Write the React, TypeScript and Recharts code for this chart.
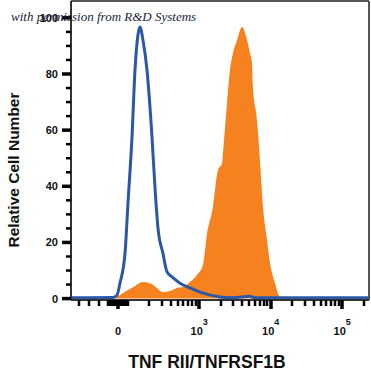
import { ComposedChart, Area, Line, XAxis, YAxis, ReferenceLine } from 'recharts';

// x positions are logicle display units (3 = 10^3, 4 = 10^4 ...), y = % of max
const isotypePos = [1.207, 1.794, 1.85, 1.892, 1.962, 2.004, 2.06, 2.102, 2.144, 2.172, 2.214, 2.27, 2.34, 2.382, 2.424, 2.494, 2.55, 2.62, 2.732, 2.871, 3.011, 3.291, 3.473, 3.71, 3.76, 3.85, 5.375];
const isotypeCounts = [0.3, 0.4, 1.2, 5.5, 16, 34, 57.5, 81.4, 94, 96.7, 92, 81.4, 57.5, 39.4, 25, 16, 9.5, 7.7, 5.5, 3.8, 2.3, 0.6, 0.3, 0.8, 0.4, 0.3, 0.3];

const samplePos = [1.207, 1.794, 1.934, 2.074, 2.214, 2.312, 2.41, 2.494, 2.592, 2.69, 2.774, 2.871, 2.969, 3.053, 3.109, 3.193, 3.263, 3.319, 3.333, 3.389, 3.431, 3.473, 3.529, 3.571, 3.599, 3.669, 3.71, 3.738, 3.752, 3.808, 3.85, 3.892, 3.948, 3.99, 4.06, 4.13, 4.228, 5.375];
const sampleCounts = [0, 0, 2, 4, 5.9, 5.5, 3.8, 2.3, 2.7, 3.8, 4.1, 5.9, 8.4, 12, 23, 32.6, 45.8, 48, 52, 69.6, 81.4, 87.5, 92, 95.6, 96.7, 92, 87.5, 84, 75, 63.6, 49, 32.6, 21, 12.7, 5.5, 0.6, 0, 0];

const yTicks = [0, 5, 10, 15, 20, 25, 30, 35, 40, 45, 50, 55, 60, 65, 70, 75, 80, 85, 90, 95, 100];
const yMajor = [0, 20, 40, 60, 80, 100];

const xTickValues = [
  -400, -300, -200, -100, -90, -80, -70, -60, -50, -40, -30, -20, -10, 0,
  10, 20, 30, 40, 50, 60, 70, 80, 90,
  100, 200, 300, 400, 500, 600, 700, 800, 900,
  1000, 2000, 3000, 4000, 5000, 6000, 7000, 8000, 9000,
  10000, 20000, 30000, 40000, 50000, 60000, 70000, 80000, 90000,
  100000, 200000,
];
const xMajorValues = [0, 1000, 10000, 100000];
const xLabelBase = ['0', '10', '10', '10'];
const xLabelExp = ['', '3', '4', '5'];

// linear near zero, log above 100
const toDisplay = (v: number) => (v >= 100 ? Math.log10(v) : 1.864 + v * 0.00136);

const isotypeData = isotypePos.map((u, i) => ({ u, count: isotypeCounts[i] }));
const sampleData = samplePos.map((u, i) => ({ u, count: sampleCounts[i] }));
const xTicks = xTickValues.map(toDisplay);
const xMajor = xMajorValues.map(toDisplay);

const FONT = 'Liberation Sans, Arial, sans-serif';

function YTick({ x, y, payload }: any) {
  const major = yMajor.includes(payload.value);
  return (
    <g>
      <line x1={x - (major ? 9 : 5)} x2={x} y1={y} y2={y} stroke="#000" strokeWidth={major ? 3.5 : 2.5} />
      {major && (
        <text x={x - 13} y={y + 4} textAnchor="end" fontFamily={FONT} fontWeight="bold" fontSize={11} fill="#111">
          {payload.value}
        </text>
      )}
    </g>
  );
}

function XTick({ x, y, payload }: any) {
  const idx = xMajor.findIndex((m) => Math.abs(m - payload.value) < 1e-6);
  const major = idx >= 0;
  const cx = Math.round(x);
  return (
    <g>
      <line x1={cx} x2={cx} y1={y} y2={y + (major ? 9 : 6)} stroke="#000" strokeWidth={major ? 3.5 : 2.5} />
      {major && (
        <text x={x} y={y + 35} textAnchor="middle" fontFamily={FONT} fontWeight="bold" fontSize={11} fill="#111">
          <tspan>{xLabelBase[idx]}</tspan>
          {xLabelExp[idx] && (
            <tspan dy={-10} fontSize={9}>
              {xLabelExp[idx]}
            </tspan>
          )}
        </text>
      )}
    </g>
  );
}

export default function App() {
  return (
    <div style={{ position: 'absolute', left: 0, top: 0, width: 371, height: 372, background: '#fff' }}>
      <ComposedChart width={371} height={372} margin={{ top: 1, right: 2, bottom: 0, left: 0 }}>
        <XAxis
          type="number"
          dataKey="u"
          domain={[1.207, 5.375]}
          allowDataOverflow
          ticks={xTicks}
          interval={0}
          height={72}
          tickSize={0}
          tickMargin={0}
          tickLine={false}
          tick={<XTick />}
          axisLine={{ stroke: '#333', strokeWidth: 2 }}
        />
        <YAxis
          type="number"
          domain={[-0.5, 106]}
          allowDataOverflow
          ticks={yTicks}
          interval={0}
          width={71}
          tickSize={0}
          tickMargin={0}
          tickLine={false}
          tick={<YTick />}
          axisLine={{ stroke: '#333', strokeWidth: 2 }}
        />
        <ReferenceLine y={106} stroke="#555" strokeWidth={2} />
        <ReferenceLine x={5.375} stroke="#555" strokeWidth={2} />
        <Area
          data={sampleData}
          dataKey="count"
          type="monotone"
          fill="#f5821f"
          fillOpacity={1}
          stroke="none"
          isAnimationActive={false}
        />
        <Line
          data={isotypeData}
          dataKey="count"
          type="monotone"
          stroke="#2a58a6"
          strokeWidth={3}
          dot={false}
          isAnimationActive={false}
        />
      </ComposedChart>
      <svg width={371} height={372} style={{ position: 'absolute', left: 0, top: 0, pointerEvents: 'none' }}>
        <text x={11} y={21} fontFamily="Liberation Serif, serif" fontStyle="italic" fontSize={13} fill="#1a1d40">
          with permission from R&amp;D Systems
        </text>
        <text transform="translate(19,170) rotate(-90)" textAnchor="middle" fontFamily={FONT} fontWeight="bold" fontSize={15.5} fill="#111">
          Relative Cell Number
        </text>
        <text x={207} y={368} textAnchor="middle" fontFamily={FONT} fontWeight="bold" fontSize={17.5} fill="#111">
          TNF RII/TNFRSF1B
        </text>
      </svg>
    </div>
  );
}
